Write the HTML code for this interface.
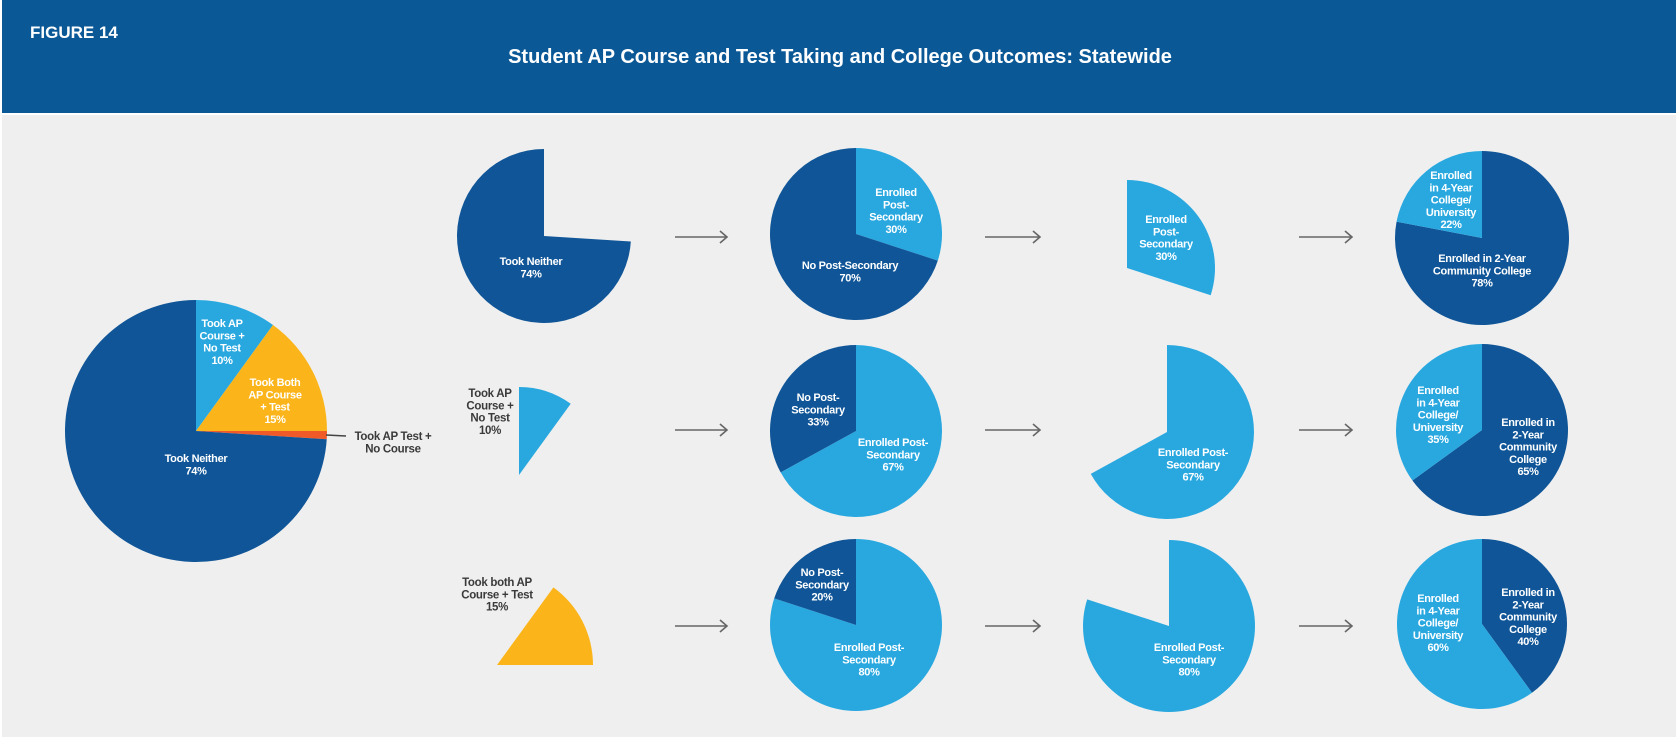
<!DOCTYPE html>
<html><head><meta charset="utf-8"><style>
html,body{margin:0;padding:0;background:#fff;}
svg{display:block;font-family:"Liberation Sans",Arial,sans-serif;}
.w{fill:#fff;font-weight:bold;font-size:11px;text-anchor:middle;letter-spacing:-0.3px;}
.d{fill:#3a3a3a;font-weight:bold;font-size:11.5px;text-anchor:middle;letter-spacing:-0.3px;}
</style></head><body>
<svg id="chart" width="1676" height="740" viewBox="0 0 1676 740">
<rect x="0" y="0" width="1676" height="740" fill="#fff"/>
<rect x="2" y="0" width="1674" height="113" fill="#0b5896"/>
<rect x="2" y="115" width="1674" height="622" fill="#efefef"/>
<text x="30" y="38" fill="#fff" font-size="17" font-weight="bold">FIGURE 14</text>
<text x="840" y="63" fill="#fff" font-size="20" font-weight="bold" text-anchor="middle">Student AP Course and Test Taking and College Outcomes: Statewide</text>
<g id="pies"></g>
<g id="arrows"></g>
<line x1="326" y1="435" x2="346" y2="436" stroke="#444" stroke-width="1.5"/>
<g id="labels"></g>
</svg>
<script>
// Percent data for each pie (values in %), colors per slice
const overallValues = [10, 15, 1, 74];
const overallColors = ["#29a8e0", "#fbb51a", "#f05a28", "#0f5597"];
const neitherValues = [26, 74];           // hidden, Took Neither
const apNoTestValues = [10, 90];          // Took AP course + no test, hidden
const bothValues = [10, 15, 75];          // hidden, Took both, hidden
const neitherOutcome = [30, 70];          // enrolled, no post-secondary
const apNoTestOutcome = [67, 33];
const bothOutcome = [80, 20];
const neitherEnrolled = [30, 70];         // enrolled shown, rest hidden
const apNoTestEnrolled = [67, 33];
const bothEnrolled = [80, 20];
const neitherCollege = [78, 22];          // 2-year, 4-year
const apNoTestCollege = [65, 35];
const bothCollege = [40, 60];

const svgNS = "http://www.w3.org/2000/svg";
const DARK = "#0f5597", LIGHT = "#29a8e0", YEL = "#fbb51a";
const pieSpecs = [
  {name:"overall", cx:196, cy:431, r:131, vals:overallValues, cols:overallColors},
  {name:"neither-group", cx:544, cy:236, r:87, vals:neitherValues, cols:[null, DARK]},
  {name:"ap-no-test-group", cx:519, cy:475, r:88, vals:apNoTestValues, cols:[LIGHT, null]},
  {name:"both-group", cx:497, cy:665, r:96, vals:bothValues, cols:[null, YEL, null]},
  {name:"neither-outcome", cx:856, cy:234, r:86, vals:neitherOutcome, cols:[LIGHT, DARK]},
  {name:"ap-no-test-outcome", cx:856, cy:431, r:86, vals:apNoTestOutcome, cols:[LIGHT, DARK]},
  {name:"both-outcome", cx:856, cy:625, r:86, vals:bothOutcome, cols:[LIGHT, DARK]},
  {name:"neither-enrolled", cx:1127, cy:268, r:88, vals:neitherEnrolled, cols:[LIGHT, null]},
  {name:"ap-no-test-enrolled", cx:1167, cy:432, r:87, vals:apNoTestEnrolled, cols:[LIGHT, null]},
  {name:"both-enrolled", cx:1169, cy:626, r:86, vals:bothEnrolled, cols:[LIGHT, null]},
  {name:"neither-college", cx:1482, cy:238, r:87, vals:neitherCollege, cols:[DARK, LIGHT]},
  {name:"ap-no-test-college", cx:1482, cy:430, r:86, vals:apNoTestCollege, cols:[DARK, LIGHT]},
  {name:"both-college", cx:1482, cy:624, r:85, vals:bothCollege, cols:[DARK, LIGHT]}
];
function angleOf(pct){ return pct/100*2*Math.PI; }
function pt(cx,cy,r,a){ return [cx + r*Math.sin(a), cy - r*Math.cos(a)]; }
const pg = document.getElementById("pies");
pieSpecs.forEach(p => {
  const total = p.vals.reduce((s,v)=>s+v,0);
  let acc = 0;
  p.vals.forEach((v,i) => {
    const a0 = angleOf(acc/total*100), a1 = angleOf((acc+v)/total*100);
    acc += v;
    if (!p.cols[i]) return;
    const [x0,y0] = pt(p.cx,p.cy,p.r,a0), [x1,y1] = pt(p.cx,p.cy,p.r,a1);
    const large = (a1-a0) > Math.PI ? 1 : 0;
    const path = document.createElementNS(svgNS,"path");
    path.setAttribute("d", `M${p.cx},${p.cy} L${x0},${y0} A${p.r},${p.r} 0 ${large} 1 ${x1},${y1} Z`);
    path.setAttribute("fill", p.cols[i]);
    
    
    pg.appendChild(path);
  });
});
// arrows
const ag = document.getElementById("arrows");
const arrowRowsY = [237, 430, 626];
const arrowColsX = [[675,727],[985,1040],[1299,1352]];
arrowRowsY.forEach(y => arrowColsX.forEach(([a,b]) => {
  const g = document.createElementNS(svgNS,"path");
  g.setAttribute("d", `M${a},${y} L${b},${y} M${b-7},${y-6} L${b},${y} L${b-7},${y+6}`);
  g.setAttribute("stroke","#666"); g.setAttribute("stroke-width","1.6"); g.setAttribute("fill","none");
  
  
  ag.appendChild(g);
}));
// labels
const labels = [
  ["w",222,323,["Took AP","Course +","No Test","10%"]],
  ["w",275,382,["Took Both","AP Course","+ Test","15%"]],
  ["d",393,436,["Took AP Test +","No Course"]],
  ["w",196,458,["Took Neither","74%"]],
  ["w",531,261,["Took Neither","74%"]],
  ["w",896,192,["Enrolled","Post-","Secondary","30%"]],
  ["w",850,265,["No Post-Secondary","70%"]],
  ["w",1166,219,["Enrolled","Post-","Secondary","30%"]],
  ["d",490,393,["Took AP","Course +","No Test","10%"]],
  ["w",818,397,["No Post-","Secondary","33%"]],
  ["w",893,442,["Enrolled Post-","Secondary","67%"]],
  ["w",1193,452,["Enrolled Post-","Secondary","67%"]],
  ["d",497,582,["Took both AP","Course + Test","15%"]],
  ["w",822,572,["No Post-","Secondary","20%"]],
  ["w",869,647,["Enrolled Post-","Secondary","80%"]],
  ["w",1189,647,["Enrolled Post-","Secondary","80%"]],
  ["w",1451,175,["Enrolled","in 4-Year","College/","University","22%"]],
  ["w",1482,258,["Enrolled in 2-Year","Community College","78%"]],
  ["w",1438,390,["Enrolled","in 4-Year","College/","University","35%"]],
  ["w",1528,422,["Enrolled in","2-Year","Community","College","65%"]],
  ["w",1438,598,["Enrolled","in 4-Year","College/","University","60%"]],
  ["w",1528,592,["Enrolled in","2-Year","Community","College","40%"]]
];
const lg = document.getElementById("labels");
labels.forEach(([cls,x,y,lines]) => {
  const t = document.createElementNS(svgNS,"text");
  t.setAttribute("class",cls); t.setAttribute("x",x); t.setAttribute("y",y+4);
  lines.forEach((ln,i) => {
    const s = document.createElementNS(svgNS,"tspan");
    s.setAttribute("x",x); if(i) s.setAttribute("dy","12.3");
    s.textContent = ln;
    t.appendChild(s);
  });
  
  
  lg.appendChild(t);
});
</script>
</body></html>
